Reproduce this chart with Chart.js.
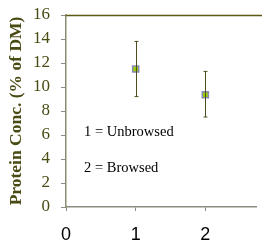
<!DOCTYPE html>
<html><head><meta charset="utf-8">
<script src="https://cdn.jsdelivr.net/npm/chart.js@4"></script>
<style>html,body{margin:0;padding:0;background:#fff;overflow:hidden}#wrap{width:262px;height:243px}</style>
</head><body><div id="wrap"><canvas id="c" width="262" height="243"></canvas></div>
<script>
const categories = [1, 2];
const means = [11.5, 9.35];
const upper = [13.8, 11.3];
const lower = [9.2, 7.5];
const yTicks = [0, 2, 4, 6, 8, 10, 12, 14, 16];
const xTicks = [0, 1, 2];
const notes = ["1 = Unbrowsed", "2 = Browsed"];

const errPlugin = {
  id: 'err',
  afterDatasetsDraw(chart) {
    const ctx = chart.ctx, xs = chart.scales.x, ys = chart.scales.y;
    ctx.save();
    ctx.strokeStyle = '#4d4d1f';
    ctx.lineWidth = 1;
    categories.forEach((c, i) => {
      const x = Math.round(xs.getPixelForValue(c)) + 0.5;
      const t = ys.getPixelForValue(upper[i]), b = ys.getPixelForValue(lower[i]);
      ctx.beginPath();
      ctx.moveTo(x, t); ctx.lineTo(x, b);
      ctx.moveTo(x - 2, t); ctx.lineTo(x + 2, t);
      ctx.moveTo(x - 2, b); ctx.lineTo(x + 2, b);
      ctx.stroke();
    });
    ctx.restore();
  },
  beforeDatasetsDraw(chart) {
    const ctx = chart.ctx, a = chart.chartArea;
    ctx.save();
    ctx.strokeStyle = '#5a5a14';
    ctx.lineWidth = 1.5;
    ctx.beginPath(); ctx.moveTo(a.left, a.top + 0.5); ctx.lineTo(chart.width, a.top + 0.5); ctx.stroke();
    ctx.fillStyle = '#000';
    ctx.font = '14.5px "Liberation Serif", "Times New Roman", serif';
    ctx.textBaseline = 'middle';
    const xs = chart.scales.x, ys = chart.scales.y;
    ctx.fillText(notes[0], xs.getPixelForValue(0.26), ys.getPixelForValue(6.25));
    ctx.fillText(notes[1], xs.getPixelForValue(0.26), ys.getPixelForValue(3.25));
    ctx.restore();
  }
};

new Chart(document.getElementById('c'), {
  type: 'scatter',
  data: {
    datasets: [{
      data: categories.map((c, i) => ({x: c, y: means[i]})),
      pointStyle: 'rect',
      pointRadius: 4.3,
      pointHoverRadius: 4.3,
      backgroundColor: '#99cc00',
      borderColor: '#8a8ab8',
      borderWidth: 1.5
    }]
  },
  options: {
    responsive: false,
    animation: false,
    events: [],
    layout: {padding: {left: 0, right: 0, top: 15, bottom: 0}},
    plugins: {legend: {display: false}, tooltip: {enabled: false}},
    scales: {
      x: {
        type: 'linear', min: 0, max: 2.73,
        afterBuildTicks: s => { s.ticks = xTicks.map(v => ({value: v})); },
        afterFit: s => { s.height = 36; s.paddingLeft = 0; s.paddingRight = 0; },
        grid: {drawOnChartArea: false, tickLength: 4, color: '#8c8c80'},
        border: {color: '#8c8c80', width: 1.5},
        ticks: {color: '#000', padding: 13, font: {family: '"Liberation Sans", Arial, sans-serif', size: 18}}
      },
      y: {
        min: 0, max: 16,
        afterBuildTicks: s => { s.ticks = yTicks.map(v => ({value: v})); },
        afterFit: s => { s.width = 66; s.paddingTop = 0; s.paddingBottom = 0; },
        grid: {drawOnChartArea: false, tickLength: 5, color: '#8c8c80'},
        border: {color: '#8c8c70', width: 1.5},
        ticks: {color: '#4a4a14', padding: 11, font: {family: '"Liberation Serif", "Times New Roman", serif', size: 17}},
        title: {display: true, text: 'Protein Conc. (% of DM)', color: '#4a4a14', padding: {top: 6, bottom: 0},
          font: {family: '"Liberation Serif", "Times New Roman", serif', size: 17.5, weight: 'bold'}}
      }
    }
  },
  plugins: [errPlugin]
});
</script></body></html>
